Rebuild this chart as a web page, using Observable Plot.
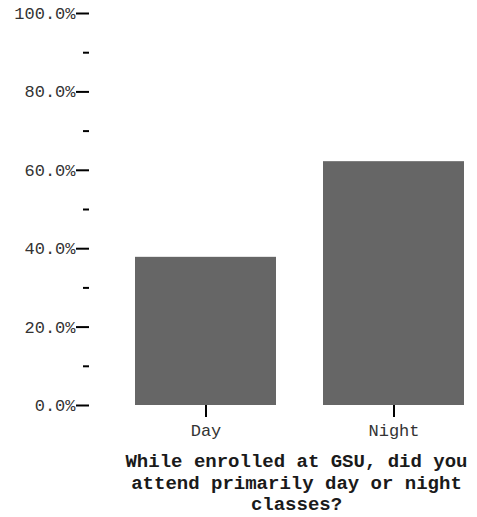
<!DOCTYPE html>
<html>
<head>
<meta charset="utf-8">
<script src="https://cdn.jsdelivr.net/npm/d3@7"></script>
<script src="https://cdn.jsdelivr.net/npm/@observablehq/plot@0.6"></script>
<style>
  body { margin: 0; background: #fff; }
  #chart svg { display: block; }
  #title {
    position: absolute; left: 119px; top: 452px; width: 355px;
    text-align: center; white-space: nowrap;
    font-family: 'Liberation Mono', 'Courier New', monospace;
    font-weight: bold; font-size: 19px; line-height: 21.5px; color: #1a1a1a;
  }
</style>
</head>
<body>
<div id="chart"></div>
<div id="title"></div>
<script>
const categories = ["Day", "Night"];
const shares = [0.378, 0.622];
const majorTicks = [0, 0.2, 0.4, 0.6, 0.8, 1.0];
const minorTicks = [0.1, 0.3, 0.5, 0.7, 0.9];
const titleLines = ["While enrolled at GSU, did you", "attend primarily day or night", "classes?"];

const data = categories.map((c, i) => ({category: c, share: shares[i]}));

const plot = Plot.plot({
  width: 477,
  height: 452,
  marginTop: 13,
  marginBottom: 47,
  marginLeft: 89,
  marginRight: 0,
  style: {fontFamily: "'Liberation Mono', 'Courier New', monospace", fontSize: "17px", color: "#333", background: "#fff"},
  x: {domain: categories, paddingInner: 0.25, paddingOuter: 0.1515, align: 0.786, label: null},
  y: {domain: [0, 1], label: null},
  marks: [
    Plot.barY(data, {x: "category", y: "share", fill: "#666666"}),
    Plot.axisX({tickSize: 12, tickPadding: 6, stroke: "#000", strokeWidth: 2, label: null}),
    Plot.axisY({ticks: majorTicks, tickFormat: d => (d * 100).toFixed(1) + "%", tickSize: 13, tickPadding: 1, stroke: "#000", strokeWidth: 2, label: null}),
    Plot.axisY({ticks: minorTicks, tickFormat: () => "", tickSize: 6, stroke: "#000", strokeWidth: 2, label: null})
  ]
});
document.getElementById("chart").appendChild(plot);
document.getElementById("title").innerHTML = titleLines.map(s => s.replace(/&/g, "&amp;").replace(/</g, "&lt;")).join("<br>");
</script>
</body>
</html>
